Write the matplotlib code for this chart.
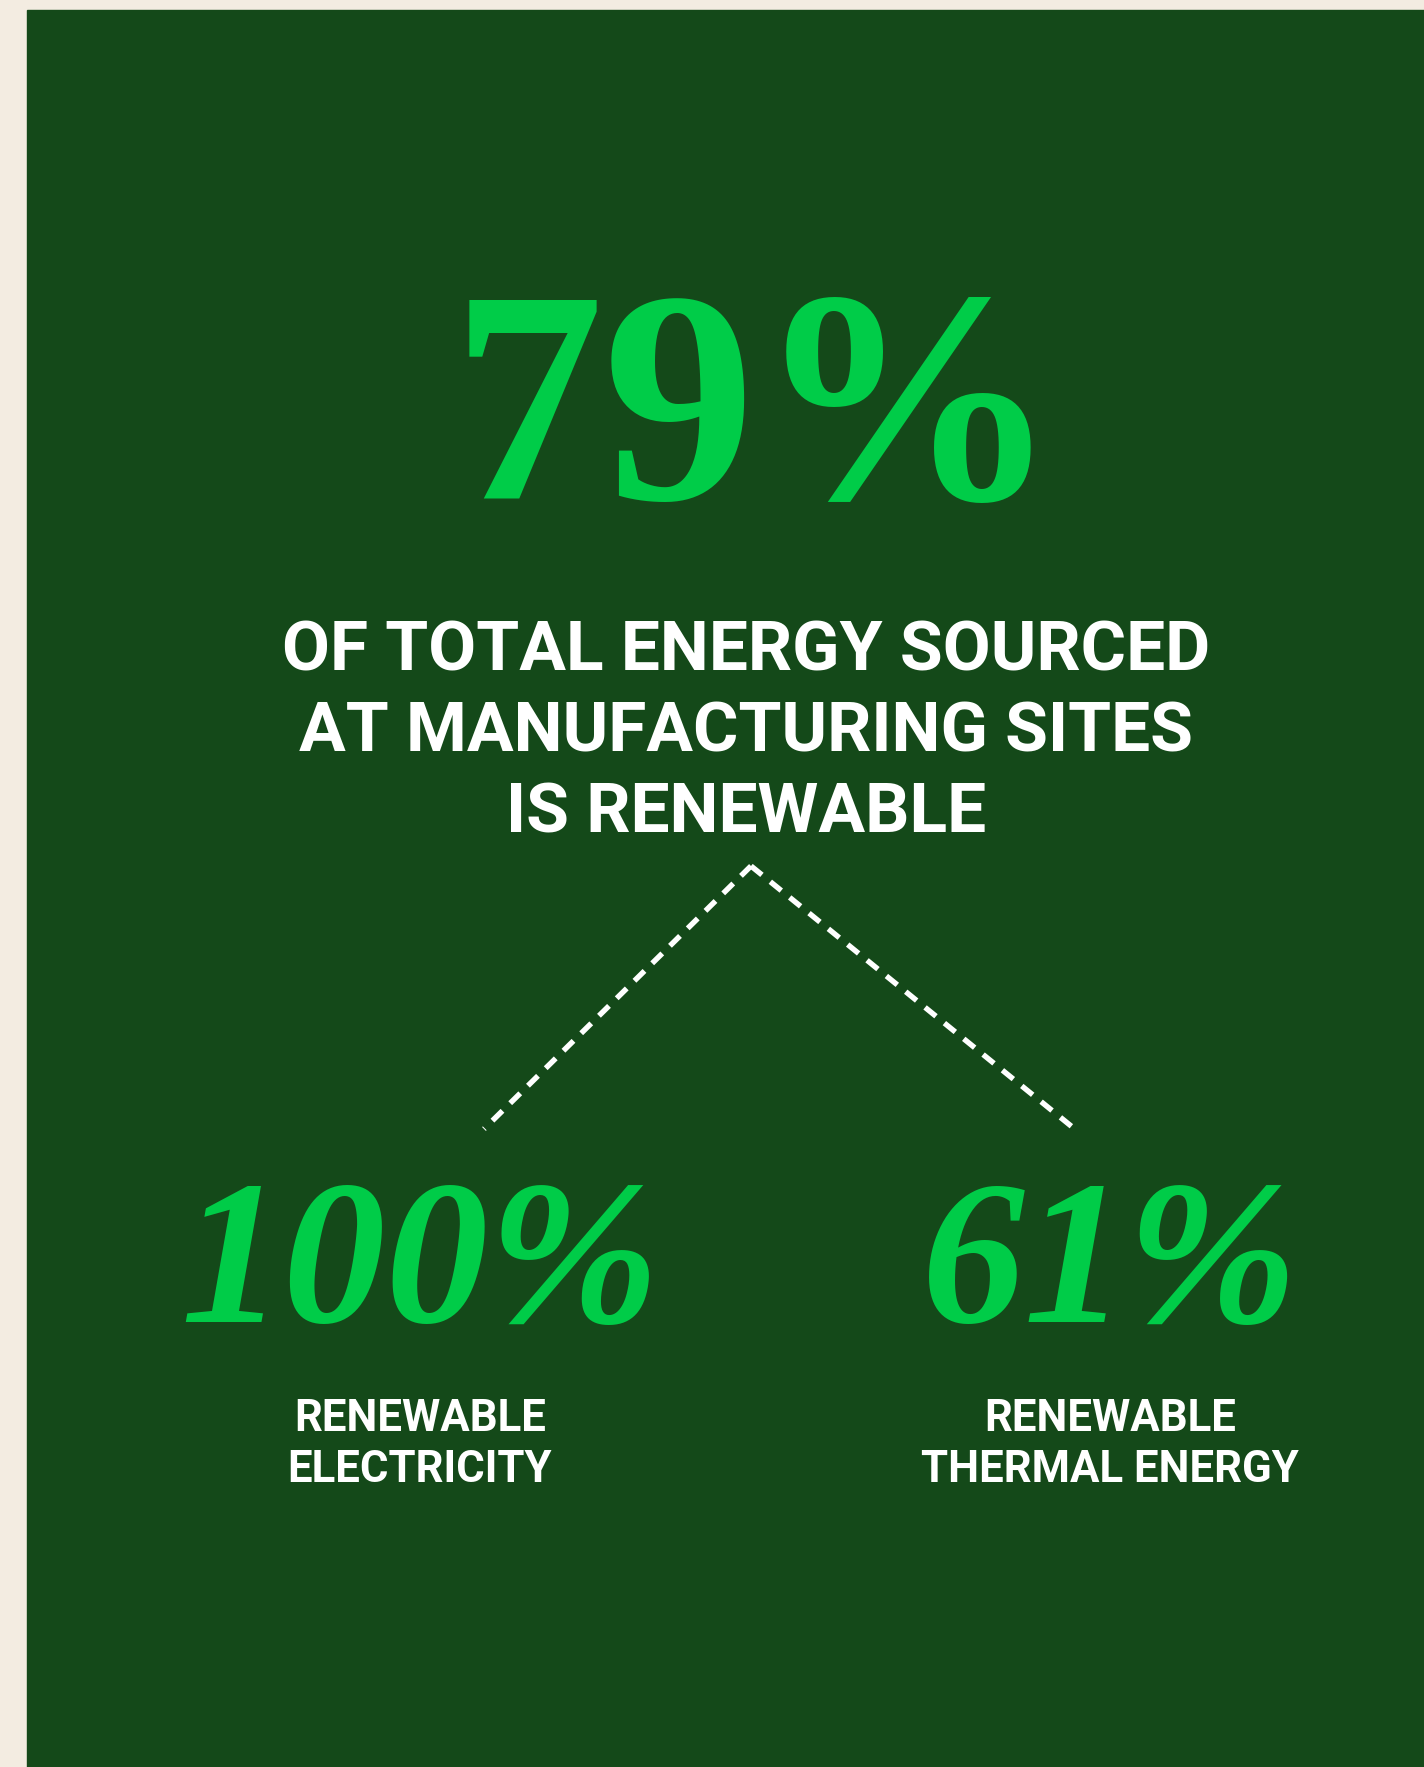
import matplotlib
matplotlib.use("Agg")
import matplotlib.pyplot as plt
from matplotlib.patches import Rectangle

# figures shown on the card
main_value = "79%"
main_caption = ["OF TOTAL ENERGY SOURCED", "AT MANUFACTURING SITES", "IS RENEWABLE"]
sub_values = ["100%", "61%"]
sub_captions = [["RENEWABLE", "ELECTRICITY"], ["RENEWABLE", "THERMAL ENERGY"]]

BEIGE = "#F3ECE1"
PANEL = "#144919"
BRIGHT = "#00CC48"

W, H = 1424, 1767
fig = plt.figure(figsize=(W / 100, H / 100), dpi=100)
fig.patch.set_facecolor(BEIGE)
ax = fig.add_axes([0, 0, 1, 1])
ax.set_xlim(0, W)
ax.set_ylim(H, 0)
ax.axis("off")

ax.add_patch(Rectangle((27, 10), W - 27, H - 10, color=PANEL, zorder=0))

serif = "Liberation Serif"
sans = "Roboto"

# headline number
ax.text(756, 499, main_value, ha="center", va="baseline", fontsize=219,
        family=serif, weight="bold", color=BRIGHT)

# caption lines
for i, line in enumerate(main_caption):
    ax.text(746, 670 + i * 81, line, ha="center", va="baseline", fontsize=50,
            family=sans, weight="bold", color="white")

# dashed connectors
apex = (751, 866)
ends = [(484, 1129), (1076, 1130)]
for ex, ey in ends:
    ax.plot([apex[0], ex], [apex[1], ey], color="white", lw=3.9,
            linestyle=(0, (2.6, 2.0)), dash_capstyle="butt")

# sub values
centers = [420, 1110]
for cx, val, cap in zip(centers, sub_values, sub_captions):
    ax.text(cx, 1322, val, ha="center", va="baseline", fontsize=148,
            family=serif, weight="bold", style="italic", color=BRIGHT)
    for j, line in enumerate(cap):
        ax.text(cx, 1431 + j * 51, line, ha="center", va="baseline", fontsize=31.5,
                family=sans, weight="bold", color="white")

fig.savefig("out.png", dpi=100, facecolor=fig.get_facecolor())
